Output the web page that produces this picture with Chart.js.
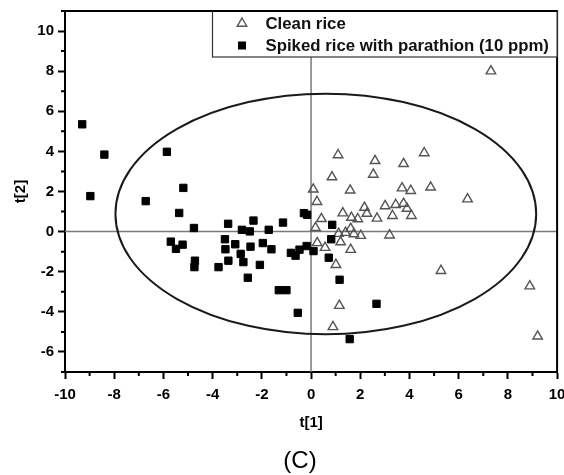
<!DOCTYPE html>
<html><head><meta charset="utf-8">
<script src="https://cdn.jsdelivr.net/npm/chart.js@4.4.1/dist/chart.umd.min.js"></script>
<style>html,body{margin:0;padding:0;background:#fff;overflow:hidden}canvas{display:block}</style>
</head><body>
<canvas id="c" width="564" height="475" style="width:564px;height:475px"></canvas>
<script>
// ---- data ----
const seriesLabels = ['Clean rice', 'Spiked rice with parathion (10 ppm)'];
const cleanX = [7.31, 1.10, 2.60, 3.76, 4.60, 0.85, 2.53, 0.09, 1.59, 3.70, 4.05, 4.86, 6.36, 0.24, 3.01, 3.44, 3.76, 3.90, 2.17, 2.27, 1.29, 1.64, 1.90, 2.68, 3.31, 4.08, 0.42, 0.18, 1.12, 1.40, 1.61, 1.74, 2.02, 3.19, 0.25, 0.57, 1.20, 1.61, 1.01, 5.28, 8.89, 1.15, 0.89, 9.21];
const cleanY = [8.00, 3.82, 3.53, 3.38, 3.92, 2.72, 2.85, 2.11, 2.06, 2.17, 2.04, 2.21, 1.62, 1.49, 1.28, 1.34, 1.40, 1.15, 1.20, 0.90, 0.92, 0.70, 0.63, 0.66, 0.79, 0.79, 0.64, 0.19, -0.10, -0.05, 0.15, -0.12, -0.20, -0.18, -0.56, -0.80, -0.52, -0.90, -1.65, -1.95, -2.72, -3.69, -4.75, -5.22];
const spikedX = [-9.30, -8.40, -8.97, -5.86, -6.72, -5.19, -5.36, -5.70, -5.49, -5.22, -4.76, -4.72, -4.74, -3.37, -3.50, -3.48, -3.36, -3.76, -3.08, -2.81, -2.49, -2.34, -2.46, -2.86, -2.75, -2.57, -2.08, -1.96, -1.72, -1.61, -1.14, -1.31, -1.00, -0.54, -0.29, -0.16, -0.82, -0.63, -0.47, -0.18, 0.10, 0.86, 0.82, 0.72, 1.16, 2.66, 1.57];
const spikedY = [5.35, 3.84, 1.77, 3.98, 1.52, 2.18, 0.93, -0.50, -0.86, -0.65, 0.18, -1.45, -1.77, 0.39, -0.38, -0.88, -1.45, -1.77, -0.63, 0.09, 0.01, 0.55, -0.75, -1.11, -1.52, -2.30, -1.66, -0.57, 0.09, -0.88, 0.45, -2.92, -2.92, -4.05, 0.92, 0.84, -1.06, -1.20, -0.90, -0.72, -0.97, 0.34, -0.38, -1.30, -2.40, -3.60, -5.36];
const xTickValues = [-10, -8, -6, -4, -2, 0, 2, 4, 6, 8, 10];
const yTickValues = [-6, -4, -2, 0, 2, 4, 6, 8, 10];
const xMinorValues = [-9, -7, -5, -3, -1, 1, 3, 5, 7, 9];
const yMinorValues = [-7, -5, -3, -1, 1, 3, 5, 7, 9, 11];
const ellipseCenter = [0.6, 0.88];
const ellipseRadii = [8.55, 6.0];
const axisTitles = ['t[1]', 't[2]'];
const panelLabel = '(C)';

const FONT = '"Liberation Sans", Arial, sans-serif';

const decor = {
  id: 'decor',
  beforeDatasetsDraw(chart) {
    const {ctx, chartArea: a, scales: {x, y}} = chart;
    ctx.save();
    const x0 = x.getPixelForValue(0), y0 = y.getPixelForValue(0);
    ctx.strokeStyle = '#7a7a7a'; ctx.lineWidth = 1.5;
    ctx.beginPath();
    ctx.moveTo(x0, a.top); ctx.lineTo(x0, a.bottom);
    ctx.moveTo(a.left, y0); ctx.lineTo(a.right, y0);
    ctx.stroke();
    const cx = x.getPixelForValue(ellipseCenter[0]), cy = y.getPixelForValue(ellipseCenter[1]);
    const rx = Math.abs(x.getPixelForValue(ellipseCenter[0] + ellipseRadii[0]) - cx);
    const ry = Math.abs(y.getPixelForValue(ellipseCenter[1] + ellipseRadii[1]) - cy);
    ctx.strokeStyle = '#1a1a1a'; ctx.lineWidth = 2;
    ctx.beginPath(); ctx.ellipse(cx, cy, rx, ry, 0, 0, Math.PI * 2); ctx.stroke();
    ctx.restore();
  },
  afterDraw(chart) {
    const {ctx, chartArea: a, scales: {x, y}} = chart;
    ctx.save();
    // minor ticks
    ctx.strokeStyle = '#000'; ctx.lineWidth = 2;
    ctx.beginPath();
    xMinorValues.forEach(v => { const p = x.getPixelForValue(v); ctx.moveTo(p, a.bottom); ctx.lineTo(p, a.bottom + 4); });
    yMinorValues.forEach(v => { const p = y.getPixelForValue(v); ctx.moveTo(a.left, p); ctx.lineTo(a.left - 4, p); });
    ctx.stroke();
    // top/right frame
    ctx.beginPath();
    ctx.moveTo(a.left, a.top); ctx.lineTo(a.right, a.top); ctx.lineTo(a.right, a.bottom);
    ctx.stroke();
    // legend box
    const lx = 212, ly = a.top, lw = a.right - lx, lh = 46;
    ctx.fillStyle = '#fff';
    ctx.fillRect(lx, ly, lw, lh);
    ctx.strokeStyle = '#333'; ctx.lineWidth = 1.2;
    ctx.strokeRect(lx + 0.5, ly, lw - 0.5, lh);
    ctx.beginPath(); ctx.lineWidth = 2; ctx.strokeStyle = '#000';
    ctx.moveTo(lx, ly); ctx.lineTo(a.right, ly); ctx.stroke();
    const ds = chart.data.datasets;
    const rows = [ly + 12.5, ly + 34.5];
    ds.forEach((d, i) => {
      const sx = 242, sy = rows[i];
      if (d.pointStyle === 'triangle') {
        const r = 5.5;
        ctx.beginPath();
        ctx.moveTo(sx, sy - r);
        ctx.lineTo(sx + r * Math.sin(2 * Math.PI / 3), sy - r * Math.cos(2 * Math.PI / 3));
        ctx.lineTo(sx + r * Math.sin(4 * Math.PI / 3), sy - r * Math.cos(4 * Math.PI / 3));
        ctx.closePath();
        ctx.strokeStyle = d.borderColor; ctx.lineWidth = d.borderWidth; ctx.stroke();
      } else {
        ctx.fillStyle = d.backgroundColor;
        ctx.fillRect(sx - 4, sy - 4, 8, 8);
      }
      ctx.fillStyle = '#111';
      ctx.font = 'bold 16.8px ' + FONT;
      ctx.textBaseline = 'middle'; ctx.textAlign = 'left';
      ctx.fillText(d.label, 265.5, sy + 0.5);
    });
    // panel label
    ctx.fillStyle = '#000';
    ctx.font = '24px ' + FONT;
    ctx.textAlign = 'center'; ctx.textBaseline = 'middle';
    ctx.fillText(panelLabel, 300, 461);
    ctx.restore();
  }
};

new Chart(document.getElementById('c'), {
  type: 'scatter',
  data: {
    datasets: [
      {
        label: seriesLabels[0],
        data: cleanX.map((v, i) => ({x: v, y: cleanY[i]})),
        pointStyle: 'triangle', pointRadius: 5.5, borderColor: '#555', borderWidth: 1.4,
        backgroundColor: 'rgba(0,0,0,0)', order: 1
      },
      {
        label: seriesLabels[1],
        data: spikedX.map((v, i) => ({x: v, y: spikedY[i]})),
        pointStyle: 'rect', pointRadius: 5.2, borderColor: '#000', borderWidth: 1,
        backgroundColor: '#000', order: 0
      }
    ]
  },
  options: {
    responsive: false,
    devicePixelRatio: 1,
    animation: false,
    events: [],
    layout: {padding: {left: 0, right: 6, top: 11, bottom: 0}},
    plugins: {
      legend: {display: false},
      tooltip: {enabled: false},
      title: {display: false}
    },
    scales: {
      x: {
        type: 'linear', min: -10, max: 10,
        afterBuildTicks: s => { s.ticks = xTickValues.map(v => ({value: v})); },
        afterFit: s => { s.height = 103; s.paddingLeft = 0; s.paddingRight = 0; },
        border: {display: true, color: '#000', width: 2},
        grid: {drawOnChartArea: false, drawTicks: true, tickLength: 7, tickWidth: 2, tickColor: '#000'},
        ticks: {color: '#000', padding: 7, maxRotation: 0, autoSkip: false,
          font: {family: FONT, size: 15, weight: 'bold'}},
        title: {display: true, text: axisTitles[0], color: '#000',
          font: {family: FONT, size: 15, weight: 'bold', lineHeight: 1.2},
          padding: {top: 0, bottom: 43}}
      },
      y: {
        type: 'linear', min: -7, max: 11,
        afterBuildTicks: s => { s.ticks = yTickValues.map(v => ({value: v})); },
        afterFit: s => { s.width = 65; s.paddingTop = 0; s.paddingBottom = 0; },
        border: {display: true, color: '#000', width: 2},
        grid: {drawOnChartArea: false, drawTicks: true, tickLength: 7, tickWidth: 2, tickColor: '#000'},
        ticks: {color: '#000', padding: 4, autoSkip: false,
          font: {family: FONT, size: 15, weight: 'bold'}},
        title: {display: true, text: axisTitles[1], color: '#000',
          font: {family: FONT, size: 15, weight: 'bold', lineHeight: 1.2},
          padding: {top: 12, bottom: 0}}
      }
    }
  },
  plugins: [decor]
});
</script>
</body></html>
